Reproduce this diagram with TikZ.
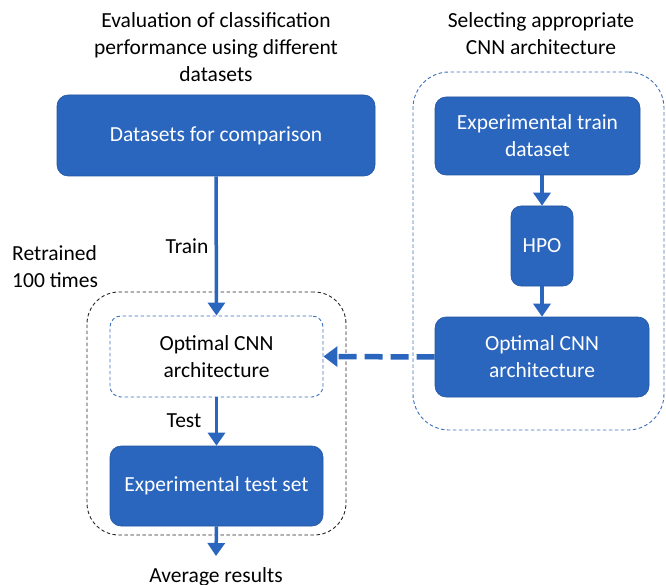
\documentclass[tikz,border=0pt]{standalone}
\usepackage{fontspec}
\setmainfont{Carlito}
\usetikzlibrary{arrows.meta}
\definecolor{boxblue}{RGB}{42,101,190}
\definecolor{dashblue}{RGB}{60,110,190}
\tikzset{
  x=1pt,y=-1pt,
  bluebox/.style={draw=boxblue!85!black,fill=boxblue,rounded corners=11pt,text=white,align=center,font=\fontsize{21.5}{27}\selectfont,inner sep=0pt,line width=0.6pt},
  wbox/.style={draw=dashblue,dashed,rounded corners=11pt,text=black,align=center,font=\fontsize{21.5}{27}\selectfont,inner sep=0pt,line width=0.9pt,dash pattern=on 3.5pt off 2.5pt},
  lbl/.style={font=\fontsize{21.5}{27}\selectfont,align=center,inner sep=0pt},
  flow/.style={draw=boxblue,line width=3.5pt,-{Triangle[length=13pt,width=17pt]}},
  dflow/.style={draw=boxblue,line width=5.5pt,dash pattern=on 18pt off 8pt,-{Triangle[length=14pt,width=20pt]}},
}
\begin{document}
\begin{tikzpicture}
\useasboundingbox (0,0) rectangle (666,585);
% titles
\node[lbl] (t1) at (216,47) {Evaluation of classification\\performance using different\\datasets};
\node[lbl] (t2) at (541,34) {Selecting appropriate\\CNN architecture};
% outer dashed groups
\node[draw=dashblue,dash pattern=on 3.5pt off 2.5pt,line width=0.9pt,rounded corners=36pt,minimum width=251pt,minimum height=358pt,inner sep=0pt] (grpR) at (538.5,251) {};
\node[draw=black!85,dash pattern=on 3.5pt off 2.5pt,line width=0.9pt,rounded corners=32pt,minimum width=259pt,minimum height=243pt,inner sep=0pt] (grpL) at (216.5,413.5) {};
% boxes
\node[bluebox,minimum width=318pt,minimum height=81pt] (ds) at (216,135.5) {Datasets for comparison};
\node[bluebox,minimum width=205pt,minimum height=78pt] (etr) at (537.5,136) {Experimental train\\dataset};
\node[bluebox,minimum width=62pt,minimum height=80pt,rounded corners=10pt] (hpo) at (542,246) {HPO};
\node[bluebox,minimum width=214pt,minimum height=80pt] (ocR) at (542,357) {Optimal CNN\\architecture};
\node[wbox,minimum width=213pt,minimum height=81pt] (ocL) at (216.5,356.5) {Optimal CNN\\architecture};
\node[bluebox,minimum width=213pt,minimum height=80pt] (ets) at (216.5,486) {Experimental test set};
% labels
\node[lbl,anchor=west,align=left] (ret) at (12,267) {Retrained\\100 times};
\node[lbl] (train) at (187,246) {Train};
\node[lbl] (test) at (184,421) {Test};
\node[lbl] (avg) at (216,577) {Average results};
\coordinate (avgtop) at (216,556);
% arrows
\draw[flow] (ds.south) -- (ocL.north);
\draw[flow] (ocL.south) -- (ets.north);
\draw[flow] (ets.south) -- (avgtop);
\draw[flow] (etr.south -| hpo.north) -- (hpo.north);
\draw[flow] (hpo.south) -- (ocR.north -| hpo.south);
\draw[dflow] (ocR.west) -- (ocL.east);
\end{tikzpicture}
\end{document}
